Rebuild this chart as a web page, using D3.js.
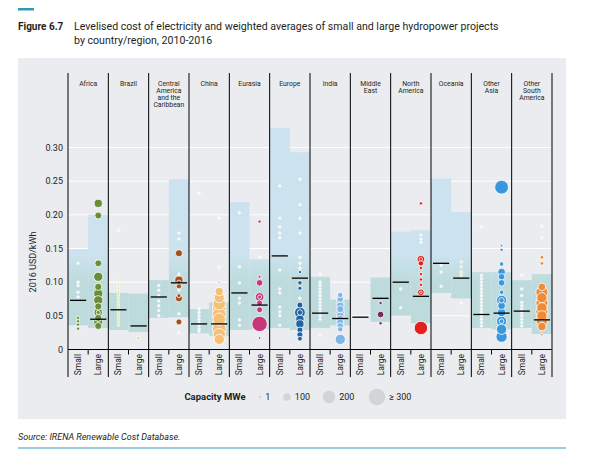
<!DOCTYPE html>
<html>
<head>
<meta charset="utf-8">
<script src="https://cdn.jsdelivr.net/npm/d3@7"></script>
<style>
  html, body { margin: 0; padding: 0; background: #ffffff; }
  svg { display: block; }
  text { font-family: "Roboto", "Open Sans", sans-serif; }
</style>
</head>
<body>
<svg id="chart" width="597" height="458"></svg>
<script>
// ---------------- DATA ----------------
const regions = ["Africa", "Brazil", "Central America and the Caribbean", "China", "Eurasia", "Europe",
  "India", "Middle East", "North America", "Oceania", "Other Asia", "Other South America"];
const regionLabels = [["Africa"], ["Brazil"], ["Central", "America", "and the", "Caribbean"], ["China"],
  ["Eurasia"], ["Europe"], ["India"], ["Middle", "East"], ["North", "America"], ["Oceania"],
  ["Other", "Asia"], ["Other", "South", "America"]];
const regionColors = ["#6a8d3a", "#d5e29a", "#a4501f", "#f6bf78", "#c8377a", "#1f63a3",
  "#7fb5e8", "#7a2864", "#e2201c", "#efe2a3", "#3b97dd", "#f08a36"];
const sizeClasses = ["Small", "Large"];
const yTicks = [0, 0.05, 0.10, 0.15, 0.20, 0.25, 0.30];
const yTickLabels = ["0", "0.05", "0.10", "0.15", "0.20", "0.25", "0.30"];

// LCOE range (min, max) per region, USD/kWh
const smallRange = [[0.036, 0.149], [0.029, 0.084], [0.047, 0.103], [0.024, 0.060], [0.029, 0.219], [0.032, 0.329],
  [0.032, 0.108], null, [0.050, 0.175], [0.084, 0.254], [0.032, 0.115], [0.032, 0.103]];
const largeRange = [[0.032, 0.200], [0.026, 0.083], [0.048, 0.253], [0.020, 0.070], [0.030, 0.134], [0.029, 0.293],
  [0.036, 0.074], [0.041, 0.107], [0.039, 0.177], [0.076, 0.204], [0.030, 0.115], [0.023, 0.112]];
// capacity-weighted averages
const smallAvg = [0.073, 0.059, 0.078, 0.038, 0.084, 0.139, 0.054, 0.048, 0.100, 0.128, 0.052, 0.057];
const largeAvg = [0.045, 0.035, 0.099, 0.038, 0.066, 0.106, 0.046, 0.076, 0.079, 0.106, 0.054, 0.044];

// projects: [LCOE USD/kWh, capacity MWe]
const africaSmall = [[0.128, 2], [0.100, 2], [0.095, 2], [0.085, 2], [0.078, 2], [0.047, 30], [0.042, 30], [0.037, 30], [0.031, 30]];
const africaLarge = [[0.217, 110], [0.199, 85], [0.128, 85], [0.108, 130], [0.093, 90], [0.083, 130], [0.073, 130],
  [0.064, 90], [0.055, 110], [0.055, 40], [0.047, 90], [0.040, 130], [0.035, 90]];
const brazilSmall = [[0.177, 1], [0.103, 20], [0.097, 20], [0.091, 20], [0.086, 20], [0.081, 20], [0.076, 20], [0.071, 20],
  [0.066, 20], [0.061, 20], [0.056, 20], [0.051, 20], [0.046, 20], [0.041, 20], [0.036, 20]];
const brazilLarge = [[0.017, 35]];
const camSmall = [[0.095, 2], [0.088, 2], [0.080, 2], [0.072, 2], [0.065, 2], [0.058, 2], [0.050, 2]];
const camLarge = [[0.173, 2], [0.164, 2], [0.143, 90], [0.112, 3], [0.103, 110], [0.100, 40], [0.094, 60], [0.088, 3],
  [0.080, 40], [0.076, 90], [0.053, 3], [0.041, 70], [0.025, 3]];
const chinaSmall = [[0.232, 1], [0.060, 2], [0.055, 2], [0.050, 2], [0.045, 2], [0.040, 2], [0.035, 2], [0.030, 2], [0.027, 2]];
const chinaLarge = [[0.195, 1], [0.122, 2], [0.100, 20], [0.086, 110], [0.077, 150], [0.068, 200], [0.060, 230],
  [0.052, 230], [0.045, 200], [0.038, 230], [0.030, 230], [0.022, 200], [0.015, 150]];
const eurasiaSmall = [[0.203, 2], [0.123, 2], [0.099, 2], [0.076, 2], [0.069, 2], [0.044, 2], [0.036, 2]];
const eurasiaLarge = [[0.190, 30], [0.137, 2], [0.108, 25], [0.099, 80], [0.078, 120], [0.078, 40], [0.069, 70],
  [0.059, 70], [0.038, 270], [0.017, 10]];
const europeSmall = [[0.243, 2], [0.195, 2], [0.182, 2], [0.173, 2], [0.166, 2], [0.118, 2], [0.090, 2], [0.084, 2],
  [0.063, 2], [0.056, 2], [0.050, 2], [0.036, 2]];
const europeLarge = [[0.253, 3], [0.215, 3], [0.195, 3], [0.173, 3], [0.137, 3], [0.128, 3], [0.121, 3], [0.115, 30],
  [0.099, 45], [0.091, 40], [0.076, 3], [0.066, 70], [0.055, 160], [0.055, 60], [0.045, 110], [0.038, 110],
  [0.029, 70], [0.022, 70], [0.016, 50]];
const indiaSmall = [[0.112, 2], [0.100, 2], [0.095, 2], [0.090, 2], [0.085, 2], [0.080, 2], [0.075, 2], [0.070, 2],
  [0.065, 2], [0.060, 2], [0.055, 2], [0.050, 2], [0.045, 2], [0.021, 2]];
const indiaLarge = [[0.081, 60], [0.075, 80], [0.070, 100], [0.065, 100], [0.060, 90], [0.055, 110], [0.050, 100],
  [0.045, 100], [0.040, 90], [0.035, 80], [0.030, 60], [0.015, 150]];
const middleEastSmall = [];
const middleEastLarge = [[0.069, 30], [0.052, 80], [0.039, 30]];
const northAmericaSmall = [[0.090, 2], [0.062, 2]];
const northAmericaLarge = [[0.217, 30], [0.170, 3], [0.164, 3], [0.159, 3], [0.134, 100], [0.134, 30], [0.128, 60],
  [0.121, 30], [0.112, 30], [0.104, 30], [0.096, 30], [0.085, 80], [0.085, 20], [0.032, 220]];
const oceaniaSmall = [[0.125, 2], [0.115, 2], [0.094, 2]];
const oceaniaLarge = [[0.130, 20], [0.123, 20], [0.115, 25], [0.110, 20], [0.069, 2]];
const otherAsiaSmall = [[0.182, 1], [0.110, 2], [0.105, 2], [0.100, 2], [0.095, 2], [0.090, 2], [0.085, 2], [0.080, 2],
  [0.075, 2], [0.070, 2], [0.065, 2], [0.060, 2], [0.055, 2], [0.050, 2], [0.045, 2], [0.040, 2], [0.035, 2]];
const otherAsiaLarge = [[0.241, 230], [0.154, 20], [0.148, 30], [0.127, 45], [0.115, 100], [0.108, 80], [0.099, 80],
  [0.085, 45], [0.073, 150], [0.073, 60], [0.065, 100], [0.055, 110], [0.042, 150], [0.042, 50], [0.030, 150], [0.019, 170]];
const otherSASmall = [[0.110, 2], [0.090, 2], [0.080, 2], [0.070, 2], [0.065, 2], [0.060, 2], [0.055, 2], [0.050, 2],
  [0.045, 2], [0.040, 2], [0.035, 2]];
const otherSALarge = [[0.183, 3], [0.166, 3], [0.137, 35], [0.128, 35], [0.093, 100], [0.085, 190], [0.077, 150],
  [0.069, 190], [0.062, 150], [0.056, 190], [0.050, 150], [0.044, 190], [0.034, 110], [0.022, 20]];

const projectSets = [[africaSmall, africaLarge], [brazilSmall, brazilLarge], [camSmall, camLarge],
  [chinaSmall, chinaLarge], [eurasiaSmall, eurasiaLarge], [europeSmall, europeLarge], [indiaSmall, indiaLarge],
  [middleEastSmall, middleEastLarge], [northAmericaSmall, northAmericaLarge], [oceaniaSmall, oceaniaLarge],
  [otherAsiaSmall, otherAsiaLarge], [otherSASmall, otherSALarge]];

const legendValues = [1, 100, 200, 300];
const legendLabels = ["1", "100", "200", "\u2265 300"];

// ---------------- CHART ----------------
const svg = d3.select("#chart");
const textCol = "#231f20";

// Title block
svg.append("rect").attr("x", 18).attr("y", 8).attr("width", 16).attr("height", 2.5).attr("fill", "#2a9db5");
svg.append("text").attr("x", 18).attr("y", 30).attr("font-size", 10).attr("font-weight", "bold").attr("fill", textCol)
  .text("Figure 6.7");
svg.append("text").attr("x", 74).attr("y", 30).attr("font-size", 10.6).attr("fill", textCol)
  .text("Levelised cost of electricity and weighted averages of small and large hydropower projects");
svg.append("text").attr("x", 74).attr("y", 44).attr("font-size", 10.6).attr("fill", textCol)
  .text("by country/region, 2010-2016");

// Panel background
svg.append("rect").attr("x", 18).attr("y", 58).attr("width", 548).attr("height", 361).attr("fill", "#eaecf0");

// Scales
const x = d3.scaleBand().domain(regions).range([68, 552]).padding(0);
const xs = d3.scaleBand().domain(sizeClasses).range([0, x.bandwidth()]).padding(0);
const y = d3.scaleLinear().domain([0, 0.30]).range([349.5, 147.5]);
const r = d3.scalePow().exponent(0.7).domain([0, 300]).range([0, 8.3]).clamp(true);
const rad = v => Math.max(1.3, r(v));

// gradient for range bars
const defs = svg.append("defs");
const grad = defs.append("linearGradient").attr("id", "barGrad").attr("gradientUnits", "userSpaceOnUse")
  .attr("x1", 0).attr("x2", 0).attr("y1", y(0.14)).attr("y2", y(0.10));
grad.append("stop").attr("offset", 0).attr("stop-color", "#cce2ee");
grad.append("stop").attr("offset", 1).attr("stop-color", "#bddbdc");

// Gridlines
const g = svg.append("g");
g.selectAll("line.grid").data(yTicks.slice(1)).join("line")
  .attr("x1", 68).attr("x2", 552).attr("y1", d => y(d)).attr("y2", d => y(d))
  .attr("stroke", "#ffffff").attr("stroke-width", 1);

// Range bars
const barData = [];
regions.forEach((reg, i) => {
  if (smallRange[i]) barData.push({ reg, size: "Small", lo: smallRange[i][0], hi: smallRange[i][1] });
  if (largeRange[i]) barData.push({ reg, size: "Large", lo: largeRange[i][0], hi: largeRange[i][1] });
});
g.selectAll("rect.bar").data(barData).join("rect")
  .attr("x", d => x(d.reg) + xs(d.size))
  .attr("width", xs.bandwidth())
  .attr("y", d => y(d.hi))
  .attr("height", d => y(d.lo) - y(d.hi))
  .attr("fill", "url(#barGrad)");

// Points
const pts = [];
regions.forEach((reg, i) => {
  sizeClasses.forEach((s, j) => {
    projectSets[i][j].forEach(p => pts.push({ reg, size: s, v: p[0], mw: p[1], color: regionColors[i] }));
  });
});
pts.sort((a, b) => b.mw - a.mw);
g.selectAll("circle.pt").data(pts).join("circle")
  .attr("cx", d => x(d.reg) + xs(d.size) + xs.bandwidth() / 2)
  .attr("cy", d => y(d.v))
  .attr("r", d => rad(d.mw))
  .attr("fill", d => d.mw < 5 ? "#f4f6f8" : d.color)
  .attr("stroke", "#ffffff")
  .attr("stroke-width", d => d.mw < 5 ? 0.6 : 0.8);

// Weighted averages
const avgData = [];
regions.forEach((reg, i) => {
  avgData.push({ reg, size: "Small", v: smallAvg[i] });
  avgData.push({ reg, size: "Large", v: largeAvg[i] });
});
g.selectAll("line.avg").data(avgData).join("line")
  .attr("x1", d => x(d.reg) + xs(d.size) + 2)
  .attr("x2", d => x(d.reg) + xs(d.size) + xs.bandwidth() - 2)
  .attr("y1", d => y(d.v)).attr("y2", d => y(d.v))
  .attr("stroke", "#000000").attr("stroke-width", 1.3);

// Separators
const seps = regions.map(d => x(d)).concat([552]);
g.selectAll("line.sep").data(seps).join("line")
  .attr("x1", d => d).attr("x2", d => d).attr("y1", 73).attr("y2", 377)
  .attr("stroke", "#000000").attr("stroke-width", 1);

// x axis baseline + ticks
g.append("line").attr("x1", 68).attr("x2", 552).attr("y1", y(0)).attr("y2", y(0))
  .attr("stroke", "#000000").attr("stroke-width", 1);
g.selectAll("line.tick").data(regions).join("line")
  .attr("x1", d => x(d) + x.bandwidth() / 2).attr("x2", d => x(d) + x.bandwidth() / 2)
  .attr("y1", y(0)).attr("y2", y(0) + 5).attr("stroke", "#000000");

// Small/Large labels
const sl = [];
regions.forEach(reg => sizeClasses.forEach(s => sl.push({ reg, s })));
g.selectAll("text.sl").data(sl).join("text")
  .attr("transform", d => `translate(${x(d.reg) + xs(d.s) + xs.bandwidth() / 2 + 3},354) rotate(-90)`)
  .attr("text-anchor", "end").attr("font-size", 8.5).attr("fill", textCol)
  .text(d => d.s);

// Region headers
regions.forEach((reg, i) => {
  const t = g.append("text").attr("text-anchor", "middle").attr("font-size", 6.8).attr("fill", textCol);
  regionLabels[i].forEach((line, k) => {
    t.append("tspan").attr("x", x(reg) + x.bandwidth() / 2).attr("y", 85.5 + k * 7).text(line);
  });
});

// Y axis labels
g.selectAll("text.yt").data(yTicks).join("text")
  .attr("x", 63).attr("y", d => y(d) + 3).attr("text-anchor", "end")
  .attr("font-size", 9).attr("fill", textCol)
  .text((d, i) => yTickLabels[i]);
g.append("text").attr("transform", "translate(36,262) rotate(-90)").attr("text-anchor", "middle")
  .attr("font-size", 9).attr("fill", textCol).text("2016 USD/kWh");

// Legend
const lg = svg.append("g");
lg.append("text").attr("x", 215).attr("y", 400).attr("text-anchor", "middle").attr("font-size", 9.5)
  .attr("font-weight", "bold").attr("fill", textCol).text("Capacity MWe");
const legX = [260, 287, 329, 377];
legendValues.forEach((v, i) => {
  lg.append("circle").attr("cx", legX[i]).attr("cy", 397).attr("r", rad(v)).attr("fill", "#d2d4d8");
  lg.append("text").attr("x", legX[i] + rad(v) + 4).attr("y", 400).attr("font-size", 9)
    .attr("fill", textCol).text(legendLabels[i]);
});

// Source
svg.append("text").attr("x", 18).attr("y", 440).attr("font-size", 9).attr("font-style", "italic")
  .attr("fill", textCol).text("Source: IRENA Renewable Cost Database.");
svg.append("line").attr("x1", 18).attr("x2", 566).attr("y1", 448).attr("y2", 448)
  .attr("stroke", "#2a9db5").attr("stroke-width", 1.2);
</script>
</body>
</html>
